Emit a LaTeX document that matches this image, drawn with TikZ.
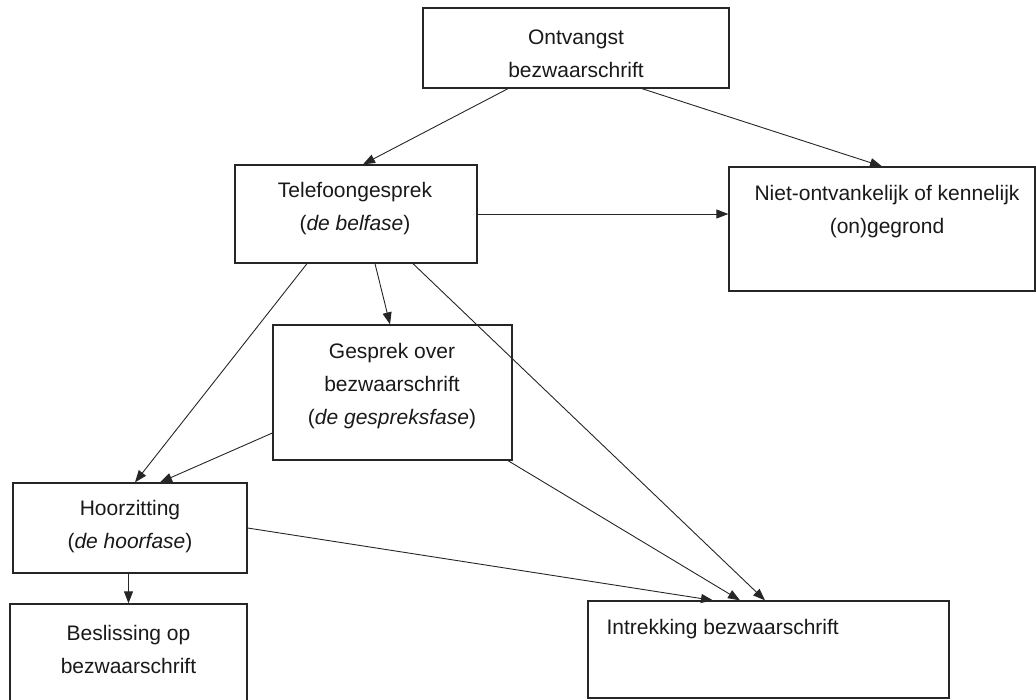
\documentclass[tikz,border=0pt]{standalone}
\usepackage{fontspec}
\setmainfont{Liberation Sans}
\usepackage{tikz}
\usetikzlibrary{arrows.meta}

\begin{document}
\begin{tikzpicture}[x=1pt, y=-1pt,
    vak/.style={draw=black!85, line width=1.3pt, rectangle, inner sep=0pt},
    tekst/.style={align=center, font=\fontsize{21}{33}\selectfont, text=black!90},
    pijl/.style={draw=black!85, line width=0.9pt, -{Triangle[length=12pt, width=9pt]}}]
    \useasboundingbox (0,0) rectangle (1036,699);

    % the boxes, one per step
    \foreach \name/\x/\y/\w/\h in {ontv/576/48/306/80, tel/356/214/242/98, niet/882/229/306/124,
        gesprek/392.5/392.5/239/135, hoor/130/528/234/90, besl/128.5/657/237/106, intr/768.5/649.5/361/97} {
        \node[vak, minimum width=\w pt, minimum height=\h pt] (\name) at (\x,\y) {};
    }

    % texts inside the boxes
    \node[tekst] (ontvT) at (576,54) {Ontvangst\\bezwaarschrift};
    \node[tekst] (telT) at (355,208.5) {Telefoongesprek\\(\textit{de belfase})};
    \node[tekst] (nietT) at (887,211.5) {Niet-ontvankelijk of kennelijk\\(on)gegrond};
    \node[tekst] (gesprekT) at (392,386) {Gesprek over\\bezwaarschrift\\(\textit{de gespreksfase})};
    \node[tekst] (hoorT) at (130,526.5) {Hoorzitting\\(\textit{de hoorfase})};
    \node[tekst] (beslT) at (128.5,649) {Beslissing op\\bezwaarschrift};
    \node[tekst, anchor=west] (intrT) at (603,629) {Intrekking bezwaarschrift};

    % connectors
    \draw[pijl] ([xshift=-68pt]ontv.south) -- ([xshift=7pt]tel.north);
    \draw[pijl] ([xshift=66pt]ontv.south) -- (niet.north);
    \draw[pijl] (tel.east) -- (tel.east -| niet.west);
    \draw[pijl] ([xshift=19pt]tel.south) -- ([xshift=-2.5pt]gesprek.north);
    \draw[pijl] ([xshift=-49pt]tel.south) -- ([xshift=5pt]hoor.north);
    \draw[pijl] ([xshift=57pt]tel.south) -- ([xshift=-3.5pt]intr.north);
    \draw[pijl] ([yshift=-40.5pt]gesprek.west) -- ([xshift=30pt]hoor.north);
    \draw[pijl] ([xshift=115.5pt]gesprek.south) -- ([xshift=-28.5pt]intr.north);
    \draw[pijl] (hoor.east) -- ([xshift=-55.5pt]intr.north);
    \draw[pijl] (besl.north |- hoor.south) -- (besl.north);

\end{tikzpicture}
\end{document}
